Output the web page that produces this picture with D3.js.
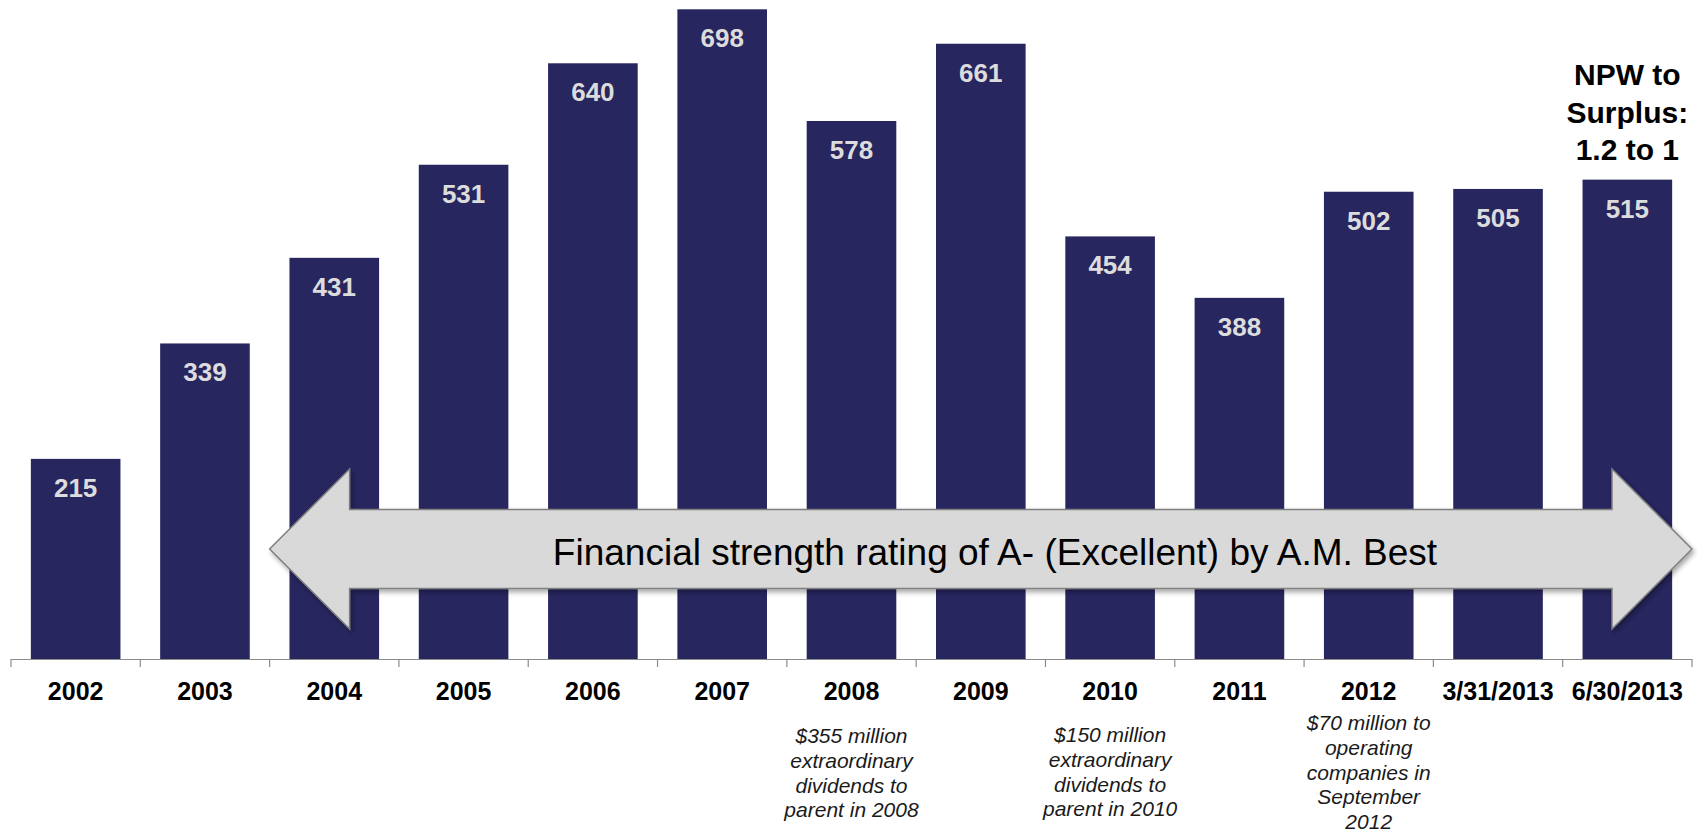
<!DOCTYPE html>
<html lang="en">
  <head>
    <meta charset="UTF-8">
    <script src="https://d3js.org/d3.v7.min.js"></script>
    <style>
      html, body {
        margin: 0;
        padding: 0;
        background: #ffffff;
      }
      #chart {
        display: block;
      }
      text {
        font-family: "Liberation Sans", Arial, sans-serif;
      }
    </style>
  </head>

  <body>
    <svg id="chart"></svg>

    <script>
      // surplus by period, in $ millions
      const periods = ['2002', '2003', '2004', '2005', '2006', '2007', '2008',
                       '2009', '2010', '2011', '2012', '3/31/2013', '6/30/2013'];
      const surplus = [215, 339, 431, 531, 640, 698, 578, 661, 454, 388, 502, 505, 515];

      // notes shown under some of the axis labels
      const notePeriods = ['2008', '2010', '2012'];
      const noteLines = [
        ['$355 million', 'extraordinary', 'dividends to', 'parent in 2008'],
        ['$150 million', 'extraordinary', 'dividends to', 'parent in 2010'],
        ['$70 million to', 'operating', 'companies in', 'September', '2012']
      ];

      const calloutLines = ['NPW to', 'Surplus:', '1.2 to 1'];
      const bannerText = 'Financial strength rating of A- (Excellent) by A.M. Best';

      const width = 1698;
      const height = 835;
      const baseY = 659;

      const svg = d3.select('#chart')
        .attr('width', width)
        .attr('height', height);

      const x = d3.scaleBand()
        .domain(periods)
        .range([11, 1692])
        .paddingInner(0.307)
        .paddingOuter(0.1535);

      const y = d3.scaleLinear()
        .domain([0, 698])
        .range([baseY, 9.3]);

      const data = periods.map((p, i) => ({ period: p, value: surplus[i] }));

      //
      // Bars and their value labels.
      //
      svg.append('g')
        .selectAll('rect')
        .data(data)
        .enter()
        .append('rect')
        .attr('x', d => x(d.period))
        .attr('y', d => y(d.value))
        .attr('width', x.bandwidth())
        .attr('height', d => baseY - y(d.value))
        .attr('fill', '#27265f');

      svg.append('g')
        .selectAll('text')
        .data(data)
        .enter()
        .append('text')
        .attr('x', d => x(d.period) + x.bandwidth() / 2)
        .attr('y', d => y(d.value) + 38)
        .attr('text-anchor', 'middle')
        .attr('font-size', 26)
        .attr('font-weight', 'bold')
        .attr('fill', '#dcdcdc')
        .text(d => d.value);

      //
      // Category axis with ticks at the band edges.
      //
      const axis = svg.append('g');
      const [x0, x1] = x.range();
      const step = x.step();

      axis.append('line')
        .attr('x1', x0).attr('x2', x1)
        .attr('y1', baseY + 0.5).attr('y2', baseY + 0.5)
        .attr('stroke', '#8c8c8c')
        .attr('stroke-width', 1.2);

      axis.selectAll('line.tick')
        .data(d3.range(periods.length + 1))
        .enter()
        .append('line')
        .attr('class', 'tick')
        .attr('x1', i => x0 + i * step)
        .attr('x2', i => x0 + i * step)
        .attr('y1', baseY)
        .attr('y2', baseY + 8)
        .attr('stroke', '#8c8c8c')
        .attr('stroke-width', 1.2);

      axis.selectAll('text')
        .data(periods)
        .enter()
        .append('text')
        .attr('x', d => x(d) + x.bandwidth() / 2)
        .attr('y', 700)
        .attr('text-anchor', 'middle')
        .attr('font-size', 25)
        .attr('font-weight', 'bold')
        .attr('fill', '#000')
        .text(d => d);

      //
      // Italic notes under 2008, 2010 and 2012.
      //
      const noteTop = { '2008': 743, '2010': 742, '2012': 730 };
      notePeriods.forEach((p, i) => {
        svg.append('text')
          .attr('x', x(p) + x.bandwidth() / 2)
          .attr('y', noteTop[p])
          .attr('text-anchor', 'middle')
          .attr('font-size', 21)
          .attr('font-style', 'italic')
          .attr('fill', '#1a1a1a')
          .selectAll('tspan')
          .data(noteLines[i])
          .enter()
          .append('tspan')
          .attr('x', x(p) + x.bandwidth() / 2)
          .attr('dy', (d, j) => j === 0 ? 0 : 24.8)
          .text(d => d);
      });

      //
      // Callout above the last bar.
      //
      const last = periods[periods.length - 1];
      svg.append('text')
        .attr('x', x(last) + x.bandwidth() / 2)
        .attr('y', 85)
        .attr('text-anchor', 'middle')
        .attr('font-size', 30)
        .attr('font-weight', 'bold')
        .attr('fill', '#000')
        .selectAll('tspan')
        .data(calloutLines)
        .enter()
        .append('tspan')
        .attr('x', x(last) + x.bandwidth() / 2)
        .attr('dy', (d, j) => j === 0 ? 0 : 37.5)
        .text(d => d);

      //
      // Double-headed banner arrow.
      //
      const defs = svg.append('defs');
      const shadow = defs.append('filter')
        .attr('id', 'shadow')
        .attr('x', '-5%').attr('y', '-20%')
        .attr('width', '110%').attr('height', '150%');
      shadow.append('feDropShadow')
        .attr('dx', 2).attr('dy', 3)
        .attr('stdDeviation', 2.5)
        .attr('flood-color', '#000')
        .attr('flood-opacity', 0.35);

      const ax0 = x(periods[2]) - x.step() * x.paddingInner() / 2;
      const ax1 = x1;
      const midY = 549;
      const headLen = 80;
      const shaftHalf = 39.5;
      const headHalf = 80;

      const arrow = d3.path();
      arrow.moveTo(ax0, midY);
      arrow.lineTo(ax0 + headLen, midY - headHalf);
      arrow.lineTo(ax0 + headLen, midY - shaftHalf);
      arrow.lineTo(ax1 - headLen, midY - shaftHalf);
      arrow.lineTo(ax1 - headLen, midY - headHalf);
      arrow.lineTo(ax1, midY);
      arrow.lineTo(ax1 - headLen, midY + headHalf);
      arrow.lineTo(ax1 - headLen, midY + shaftHalf);
      arrow.lineTo(ax0 + headLen, midY + shaftHalf);
      arrow.lineTo(ax0 + headLen, midY + headHalf);
      arrow.closePath();

      svg.append('path')
        .attr('d', arrow.toString())
        .attr('fill', '#d9d9d9')
        .attr('stroke', '#7f7f7f')
        .attr('stroke-width', 1.5)
        .attr('filter', 'url(#shadow)');

      svg.append('text')
        .attr('x', 995)
        .attr('y', 565)
        .attr('text-anchor', 'middle')
        .attr('font-size', 37)
        .attr('fill', '#000')
        .text(bannerText);
    </script>
  </body>
</html>
